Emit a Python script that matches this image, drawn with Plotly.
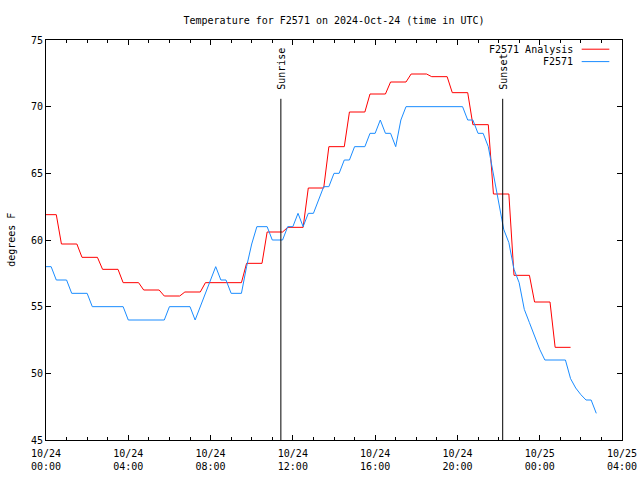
import plotly.graph_objects as go

# ---- data ----
analysis_time = [
    "2024-10-24 00:00", "2024-10-24 00:30", "2024-10-24 00:45", "2024-10-24 01:30",
    "2024-10-24 01:45", "2024-10-24 02:30", "2024-10-24 02:45", "2024-10-24 03:30",
    "2024-10-24 03:45", "2024-10-24 04:30", "2024-10-24 04:45", "2024-10-24 05:30",
    "2024-10-24 05:45", "2024-10-24 06:30", "2024-10-24 06:45", "2024-10-24 07:30",
    "2024-10-24 07:45", "2024-10-24 08:30", "2024-10-24 08:45", "2024-10-24 09:30",
    "2024-10-24 09:45", "2024-10-24 10:30", "2024-10-24 10:45", "2024-10-24 11:30",
    "2024-10-24 11:45", "2024-10-24 12:30", "2024-10-24 12:45", "2024-10-24 13:30",
    "2024-10-24 13:45", "2024-10-24 14:30", "2024-10-24 14:45", "2024-10-24 15:30",
    "2024-10-24 15:45", "2024-10-24 16:30", "2024-10-24 16:45", "2024-10-24 17:30",
    "2024-10-24 17:45", "2024-10-24 18:30", "2024-10-24 18:45", "2024-10-24 19:30",
    "2024-10-24 19:45", "2024-10-24 20:30", "2024-10-24 20:45", "2024-10-24 21:30",
    "2024-10-24 21:45", "2024-10-24 22:30", "2024-10-24 22:45", "2024-10-24 23:30",
    "2024-10-24 23:45", "2024-10-25 00:30", "2024-10-25 00:45", "2024-10-25 01:30",
]
analysis_temp = [
    61.9, 61.9, 59.7, 59.7, 58.7, 58.7, 57.8, 57.8,
    56.8, 56.8, 56.25, 56.25, 55.8, 55.8, 56.1, 56.1,
    56.8, 56.8, 56.8, 56.8, 58.25, 58.25, 60.6, 60.6,
    60.95, 60.95, 63.9, 63.9, 67.0, 67.0, 69.6, 69.6,
    70.95, 70.95, 71.85, 71.85, 72.45, 72.45, 72.25, 72.25,
    71.05, 71.05, 68.65, 68.65, 63.45, 63.45, 57.35, 57.35,
    55.35, 55.35, 51.95, 51.95,
]

obs_time = [
    "2024-10-24 00:00", "2024-10-24 00:15", "2024-10-24 00:30", "2024-10-24 01:00",
    "2024-10-24 01:15", "2024-10-24 02:00", "2024-10-24 02:15", "2024-10-24 03:45",
    "2024-10-24 04:00", "2024-10-24 05:45", "2024-10-24 06:00", "2024-10-24 07:00",
    "2024-10-24 07:15", "2024-10-24 07:30", "2024-10-24 07:45", "2024-10-24 08:00",
    "2024-10-24 08:15", "2024-10-24 08:30", "2024-10-24 08:45", "2024-10-24 09:00",
    "2024-10-24 09:30", "2024-10-24 09:45", "2024-10-24 10:00", "2024-10-24 10:15",
    "2024-10-24 10:45", "2024-10-24 11:00", "2024-10-24 11:30", "2024-10-24 11:45",
    "2024-10-24 12:00", "2024-10-24 12:15", "2024-10-24 12:30", "2024-10-24 12:45",
    "2024-10-24 13:00", "2024-10-24 13:15", "2024-10-24 13:30", "2024-10-24 13:45",
    "2024-10-24 14:00", "2024-10-24 14:15", "2024-10-24 14:30", "2024-10-24 14:45",
    "2024-10-24 15:00", "2024-10-24 15:30", "2024-10-24 15:45", "2024-10-24 16:00",
    "2024-10-24 16:15", "2024-10-24 16:30", "2024-10-24 16:45", "2024-10-24 17:00",
    "2024-10-24 17:15", "2024-10-24 17:30", "2024-10-24 20:15", "2024-10-24 20:30",
    "2024-10-24 20:45", "2024-10-24 21:00", "2024-10-24 21:15", "2024-10-24 21:30",
    "2024-10-24 21:45", "2024-10-24 22:00", "2024-10-24 22:15", "2024-10-24 22:30",
    "2024-10-24 22:45", "2024-10-24 23:00", "2024-10-24 23:15", "2024-10-24 23:30",
    "2024-10-24 23:45", "2024-10-25 00:00", "2024-10-25 00:15", "2024-10-25 01:15",
    "2024-10-25 01:30", "2024-10-25 01:45", "2024-10-25 02:00", "2024-10-25 02:15",
    "2024-10-25 02:30", "2024-10-25 02:45",
]
obs_temp = [
    58, 58, 57, 57, 56, 56, 55, 55,
    54, 54, 55, 55, 54, 55, 56, 57,
    58, 57, 57, 56, 56, 58, 59.7, 61,
    61, 60, 60, 61, 61, 62, 61, 62,
    62, 63, 64, 64, 65, 65, 66, 66,
    67, 67, 68, 68, 69, 68, 68, 67,
    69, 70, 70, 69, 69, 68, 68, 67,
    64.9, 62.9, 60.8, 59.8, 57.8, 56.8, 54.8, 53.8,
    52.8, 51.8, 51.0, 51.0, 49.6, 48.9, 48.4, 48.0,
    48.0, 47.0,
]

sun_events = ["Sunrise", "Sunset"]
sun_times = ["2024-10-24 11:25", "2024-10-24 22:12"]

tick_vals = ["2024-10-24 00:00", "2024-10-24 04:00", "2024-10-24 08:00", "2024-10-24 12:00",
             "2024-10-24 16:00", "2024-10-24 20:00", "2024-10-25 00:00", "2024-10-25 04:00"]
tick_text = ["10/24<br>00:00", "10/24<br>04:00", "10/24<br>08:00", "10/24<br>12:00",
             "10/24<br>16:00", "10/24<br>20:00", "10/25<br>00:00", "10/25<br>04:00"]

series_names = ["F2571 Analysis", "F2571"]
series_colors = ["#ff0000", "#1a8cff"]

FONT = "DejaVu Sans Mono"

fig = go.Figure()
fig.add_trace(go.Scatter(x=analysis_time, y=analysis_temp, mode="lines",
                         line=dict(color=series_colors[0], width=1),
                         name=series_names[0], showlegend=False))
fig.add_trace(go.Scatter(x=obs_time, y=obs_temp, mode="lines",
                         line=dict(color=series_colors[1], width=1),
                         name=series_names[1], showlegend=False))

shapes = []
annotations = []
for name, t in zip(sun_events, sun_times):
    shapes.append(dict(type="line", xref="x", yref="paper", x0=t, x1=t, y0=0, y1=0.853,
                       line=dict(color="black", width=1)))
    annotations.append(dict(x=t, y=0.87, xref="x", yref="paper", text=name,
                            textangle=-90, showarrow=False, xanchor="center",
                            yanchor="bottom", font=dict(family=FONT, size=10, color="black")))

# manual gnuplot-style legend
leg_y = [0.977, 0.946]
for name, col, yy in zip(series_names, series_colors, leg_y):
    annotations.append(dict(x=0.918, y=yy, xref="paper", yref="paper", text=name,
                            showarrow=False, xanchor="right", yanchor="middle",
                            font=dict(family=FONT, size=10, color="black")))
    shapes.append(dict(type="line", xref="paper", yref="paper", x0=0.930, x1=0.978,
                       y0=yy, y1=yy, line=dict(color=col, width=1)))

annotations.append(dict(x=-0.061, y=0.5, xref="paper", yref="paper", text="degrees F",
                        textangle=-90, showarrow=False, xanchor="center", yanchor="middle",
                        font=dict(family=FONT, size=10, color="black")))

fig.update_layout(
    width=640, height=480,
    margin=dict(l=46, r=18, t=40, b=40),
    paper_bgcolor="white", plot_bgcolor="white",
    font=dict(family=FONT, size=10, color="black"),
    title=dict(text="Temperature for F2571 on 2024-Oct-24 (time in UTC)",
               x=0.5, xref="paper", xanchor="center", y=1 - 20 / 480, yanchor="middle",
               font=dict(family=FONT, size=10, color="black")),
    shapes=shapes, annotations=annotations,
    showlegend=False,
)
fig.update_xaxes(type="date", range=["2024-10-24 00:00", "2024-10-25 04:00"],
                 tickvals=tick_vals, ticktext=tick_text, automargin=False,
                 ticklabelstandoff=4,
                 showline=True, linecolor="black", linewidth=1, mirror="ticks",
                 ticks="inside", ticklen=5, tickcolor="black", tickwidth=1,
                 showgrid=False, zeroline=False,
                 minor=dict(dtick=3600000, ticks="inside", ticklen=3, tickcolor="black",
                            showgrid=False),
                 tickfont=dict(family=FONT, size=10, color="black"))
fig.update_yaxes(range=[45, 75], tickvals=[45, 50, 55, 60, 65, 70, 75], automargin=False,
                 showline=True, linecolor="black", linewidth=1, mirror="ticks",
                 ticks="inside", ticklen=5, tickcolor="black", tickwidth=1,
                 showgrid=False, zeroline=False,
                 tickfont=dict(family=FONT, size=10, color="black"))

fig.write_html("out.html")
